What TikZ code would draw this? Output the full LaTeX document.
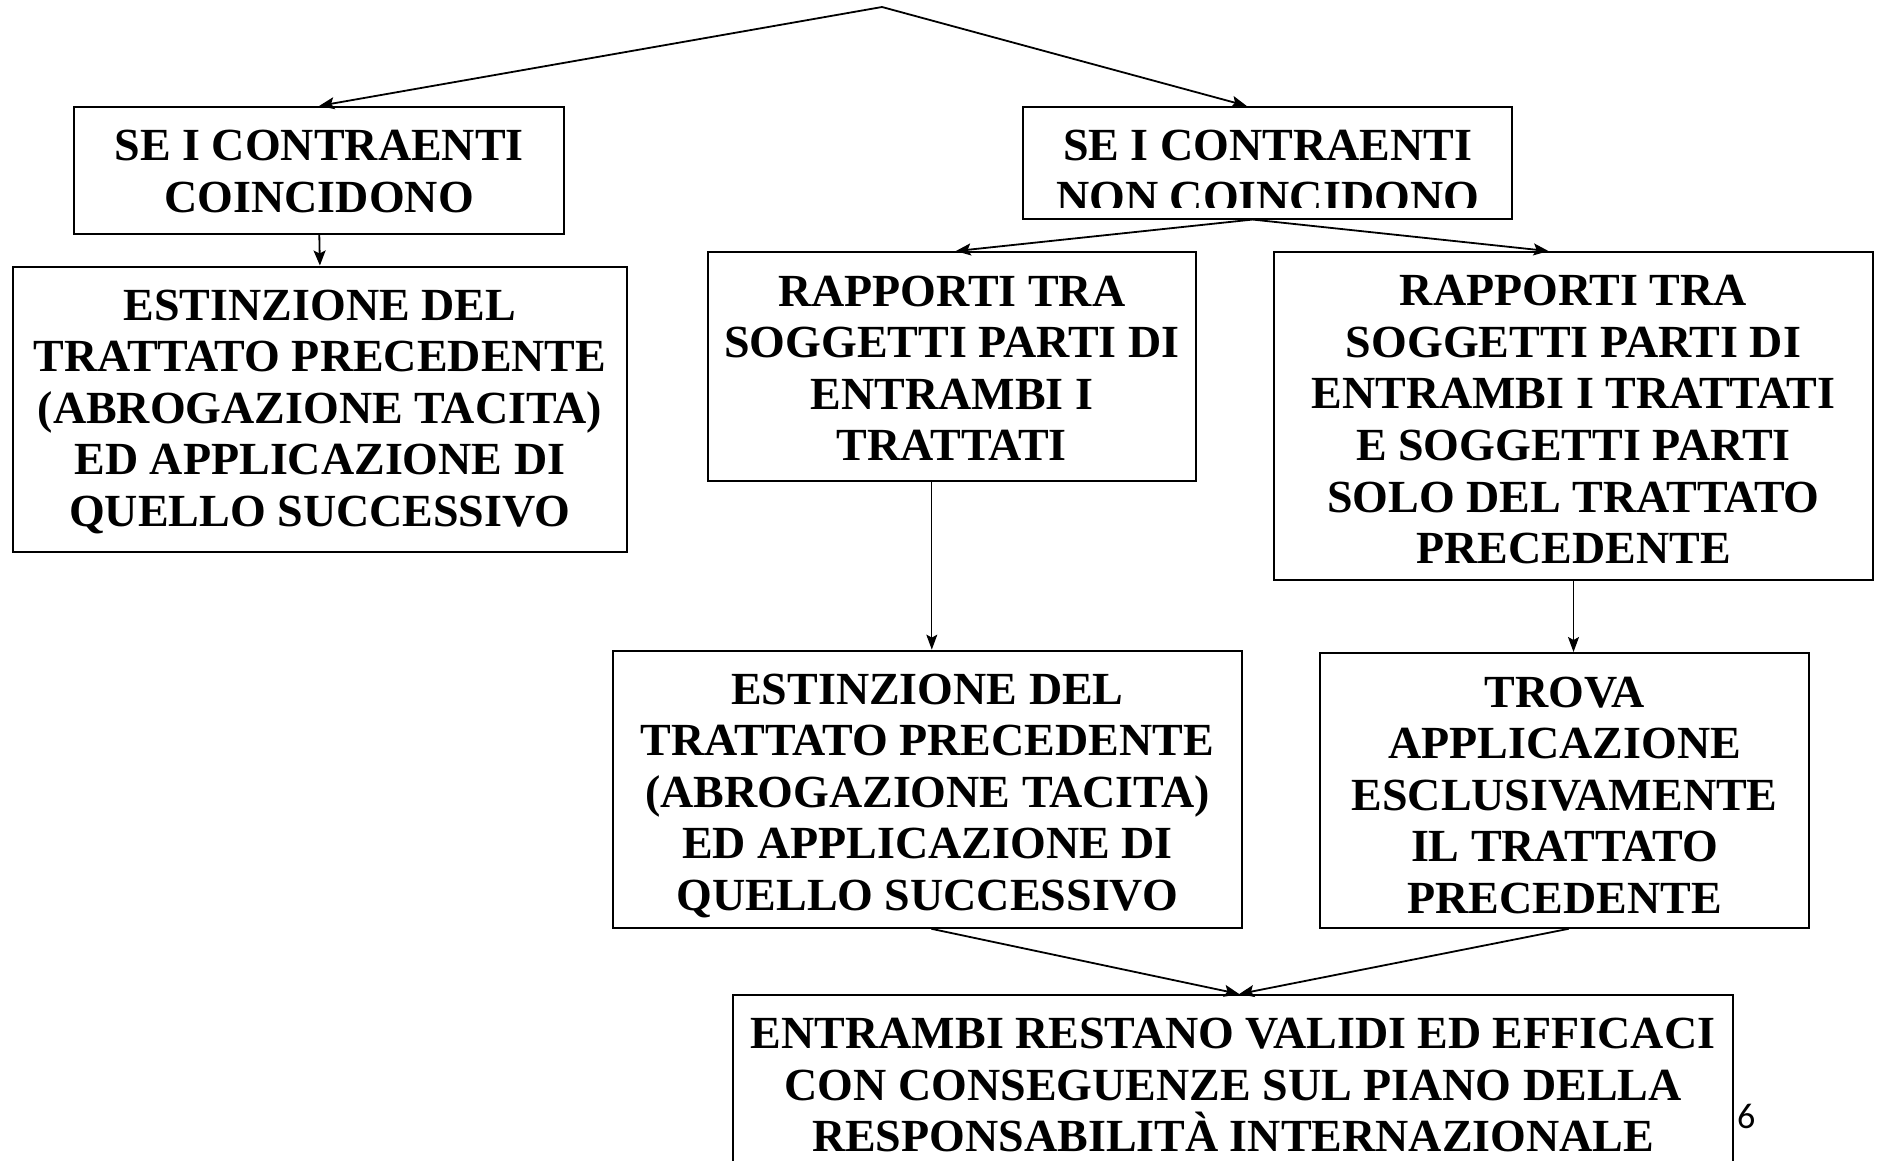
\documentclass[tikz,border=0pt]{standalone}
\usepackage{fontspec}
\setmainfont{Liberation Serif}
\newfontfamily\pagefont{Carlito}
\usetikzlibrary{arrows.meta}
\begin{document}
\begin{tikzpicture}[x=1pt,y=-1pt,
  boxtxt/.style={inner sep=0pt, align=center, font=\fontsize{46}{51.6}\selectfont\bfseries},
  box/.style={draw, line width=2pt, inner sep=0pt},
  arr/.style={line width=1.8pt, -{Stealth[length=15pt,width=12pt,inset=3pt]}},
  arrthin/.style={line width=1.2pt, -{Stealth[length=15pt,width=11pt,inset=3pt]}}]
\useasboundingbox (0,0) rectangle (1882,1160);
\fill[white] (0,0) rectangle (1882,1160);
\clip (0,0) rectangle (1882,1160);

\coordinate (apex) at (882,7);

% A
\node[box, minimum width=489.7pt, minimum height=127.3pt] (A) at (319.3,170.5) {};
\node[boxtxt] (Atext) at ([yshift=-1pt]A.center) {SE I CONTRAENTI\\COINCIDONO};

% B (text cut off at the bottom)
\node[box, minimum width=489.7pt, minimum height=111.7pt] (B) at (1267.6,162.7) {};
\begin{scope}
  \clip (1022,100) rectangle (1513,207);
  \node[boxtxt] (Btext) at (1267.6,171.5) {SE I CONTRAENTI\\NON COINCIDONO};
\end{scope}

% C
\node[box, minimum width=613.4pt, minimum height=285.6pt] (C) at (319.9,409.3) {};
\node[boxtxt] (Ctext) at ([yshift=-2.5pt]C.center)
  {ESTINZIONE DEL\\TRATTATO PRECEDENTE\\(ABROGAZIONE TACITA)\\ED APPLICAZIONE DI\\QUELLO SUCCESSIVO};

% D
\node[box, minimum width=487.5pt, minimum height=229.3pt] (D) at (951.8,366.7) {};
\node[boxtxt] (Dtext) at ([yshift=-1.5pt]D.center)
  {RAPPORTI TRA\\SOGGETTI PARTI DI\\ENTRAMBI I\\TRATTATI};

% E
\node[box, minimum width=599pt, minimum height=327.7pt] (E) at (1573.5,415.9) {};
\node[boxtxt] (Etext) at ([yshift=-3.8pt]E.center)
  {RAPPORTI TRA\\SOGGETTI PARTI DI\\ENTRAMBI I TRATTATI\\E SOGGETTI PARTI\\SOLO DEL TRATTATO\\PRECEDENTE};

% F
\node[box, minimum width=629.8pt, minimum height=277.2pt] (F) at (927.4,789.2) {};
\node[boxtxt] (Ftext) at ([yshift=-6.5pt]F.center)
  {ESTINZIONE DEL\\TRATTATO PRECEDENTE\\(ABROGAZIONE TACITA)\\ED APPLICAZIONE DI\\QUELLO SUCCESSIVO};

% G
\node[box, minimum width=488.6pt, minimum height=274.8pt] (G) at (1564.6,790.4) {};
\node[boxtxt] (Gtext) at ([yshift=-4.8pt]G.center)
  {TROVA\\APPLICAZIONE\\ESCLUSIVAMENTE\\IL TRATTATO\\PRECEDENTE};

% H
\node[box, minimum width=999.6pt, minimum height=178pt] (H) at (1233.2,1084) {};
\node[boxtxt] (Htext) at ([yshift=-1.2pt]H.center)
  {ENTRAMBI RESTANO VALIDI ED EFFICACI\\CON CONSEGUENZE SUL PIANO DELLA\\RESPONSABILITÀ INTERNAZIONALE};

\node[anchor=north west, inner sep=0pt, font=\fontsize{36}{40}\selectfont\pagefont] (pg) at (1737,1104) {6};

\draw[arr] (apex) -- (A.north);
\draw[arr] (apex) -- ([xshift=-21pt]B.north);
\draw[arr] (A.south) -- (C.north);
\draw[arr] ([xshift=-15pt]B.south) -- ([xshift=4pt]D.north);
\draw[arr] ([xshift=-15pt]B.south) -- ([xshift=-25pt]E.north);
\draw[arrthin] ([xshift=-20pt]D.south) -- ([xshift=-20pt]D.south |- F.north);
\draw[arrthin] (E.south) -- (E.south |- G.north);
\draw[arr] ([xshift=4pt]F.south) -- ([xshift=6pt]H.north);
\draw[arr] ([xshift=4pt]G.south) -- ([xshift=6pt]H.north);
\end{tikzpicture}
\end{document}
